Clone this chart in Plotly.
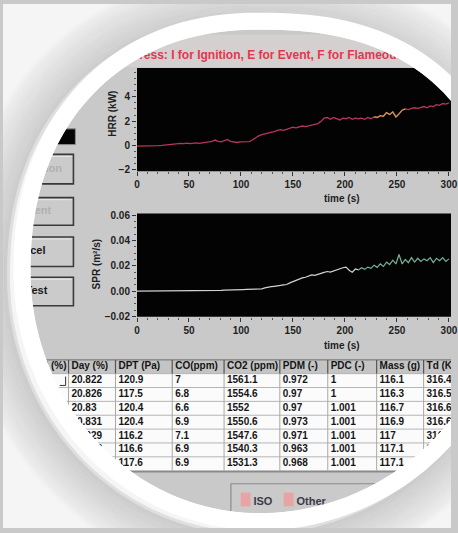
import math
import plotly.graph_objects as go

W, H = 458, 533

# ---------------- data ----------------
time_s = list(range(0, 301, 3))

hrr_kw = [
    -0.05, -0.05, -0.03, -0.05, -0.04, -0.02, -0.03, 0.0, 0.02,
    0.05, 0.08, 0.1, 0.15, 0.12, 0.18, 0.15, 0.2, 0.15, 0.2, 0.22, 0.18,
    0.2, 0.25, 0.3, 0.35, 0.45, 0.35, 0.3, 0.4, 0.5, 0.35, 0.3,
    0.25, 0.3, 0.3, 0.28, 0.32, 0.45, 0.65,
    0.8, 0.9, 0.95, 1.05, 1.1, 1.15, 1.25, 1.3, 1.25, 1.35, 1.4,
    1.5, 1.45, 1.55, 1.6, 1.55, 1.6, 1.65, 1.7, 1.8, 2.0, 2.25,
    2.3, 2.15, 2.3, 2.2, 2.1, 2.25, 2.2, 2.3, 2.15, 2.25, 2.2,
    2.25, 2.15, 2.3, 2.2, 2.35, 2.3, 2.45, 2.4, 2.7, 2.55, 2.75,
    2.35, 2.6, 2.9, 3.0, 2.95, 3.05, 3.1, 3.05, 3.15, 3.2, 3.1,
    3.25, 3.2, 3.35, 3.3, 3.45, 3.4, 3.5,
]

spr_m2s = [
    0.0, 0.0, 0.0, 0.0, 0.0, 0.0001, 0.0001, 0.0001, 0.0001, 0.0002, 0.0002, 0.0002, 0.0003, 0.0003, 0.0003, 0.0003, 0.0004,
    0.0004, 0.0004, 0.0005, 0.0005, 0.0005, 0.0005, 0.0006, 0.0006, 0.0006, 0.0006, 0.0006, 0.0007, 0.0007, 0.0007, 0.0007, 0.0008, 0.0009,
    0.0012, 0.0013, 0.0014, 0.0015, 0.0015, 0.0016, 0.0018, 0.0025, 0.0033, 0.0035, 0.0038, 0.004, 0.0045, 0.005, 0.0052, 0.0065, 0.0075,
    0.009, 0.0095, 0.0105, 0.011, 0.0118, 0.0128, 0.0125, 0.0135, 0.014, 0.0148, 0.0155, 0.015, 0.016, 0.0165, 0.0175, 0.0185, 0.019,
    0.0165, 0.015, 0.0175, 0.0168, 0.0185, 0.0172, 0.019, 0.018, 0.0205, 0.0188, 0.0215, 0.0195, 0.023, 0.021, 0.0245, 0.0215, 0.029,
    0.0215, 0.025, 0.0225, 0.0265, 0.023, 0.026, 0.0235, 0.0255, 0.024, 0.0265, 0.0225, 0.026, 0.024, 0.0265, 0.0235, 0.0255,
]

hrr_orange_window = (228, 258)
spr_colour_switch = 213

x_ticks = [0, 50, 100, 150, 200, 250, 300]
hrr_ticks = [-2, 0, 2, 4]
spr_ticks = [-0.02, 0.0, 0.02, 0.04, 0.06]

table_headers = ["O2 (%)", "Day (%)", "DPT (Pa)", "CO(ppm)", "CO2 (ppm)",
                 "PDM (-)", "PDC (-)", "Mass (g)", "Td (K)"]
col_o2 = ["", "", "", "", "", "", ""]
col_day = [20.822, 20.826, 20.83, 20.831, 20.829, 20.828, 20.827]
col_dpt = [120.9, 117.5, 120.4, 120.4, 116.2, 116.6, 117.6]
col_co = [7, 6.8, 6.6, 6.9, 7.1, 6.9, 6.9]
col_co2 = [1561.1, 1554.6, 1552, 1550.6, 1547.6, 1540.3, 1531.3]
col_pdm = [0.972, 0.97, 0.97, 0.973, 0.971, 0.963, 0.968]
col_pdc = [1, 1, 1.001, 1.001, 1.001, 1.001, 1.001]
col_mass = [116.1, 116.3, 116.7, 116.9, 117, 117.1, 117.1]
col_td = [316.4, 316.5, 316.6, 316.6, 316.7, 316.8, 316.8]
table_columns = [col_o2, col_day, col_dpt, col_co, col_co2,
                 col_pdm, col_pdc, col_mass, col_td]

instruction = "Press: I for Ignition, E for Event, F for Flameout"
button_labels = ["Ignition", "Event", "Cancel", "End Test"]
tab_labels = ["ISO", "Other"]

# ---------------- layout constants (pixels) ----------------
PLOT_L = 137
TOP_Y0, TOP_Y1 = 65, 170
BOT_Y0, BOT_Y1 = 213, 318
col_edges = [0, 67, 115, 173, 226, 283, 332, 382, 430, 500]
TAB_TOP, HEAD_H, ROW_H = 362, 14, 14.1
SCREEN = "#c9c9c9"
FONT = "Liberation Sans"


def ydom(y0, y1):
    return [1 - y1 / H, 1 - y0 / H]


fig = go.Figure()

# ---------------- plot traces ----------------
def segment(xs, ys, lo, hi):
    sx = [x for x in xs if lo <= x <= hi]
    sy = [y for x, y in zip(xs, ys) if lo <= x <= hi]
    return sx, sy

fig.add_trace(go.Scatter(x=time_s, y=hrr_kw, mode="lines",
                         line=dict(color="#b8365a", width=1.3),
                         xaxis="x", yaxis="y", hoverinfo="skip"))
ox, oy = segment(time_s, hrr_kw, *hrr_orange_window)
fig.add_trace(go.Scatter(x=ox, y=oy, mode="lines",
                         line=dict(color="#c9953e", width=1.3),
                         xaxis="x", yaxis="y", hoverinfo="skip"))
wx, wy = segment(time_s, spr_m2s, 0, spr_colour_switch)
fig.add_trace(go.Scatter(x=wx, y=wy, mode="lines",
                         line=dict(color="#d2d2d2", width=1.2),
                         xaxis="x2", yaxis="y2", hoverinfo="skip"))
gx, gy = segment(time_s, spr_m2s, spr_colour_switch, 300)
fig.add_trace(go.Scatter(x=gx, y=gy, mode="lines",
                         line=dict(color="#74b398", width=1.2),
                         xaxis="x2", yaxis="y2", hoverinfo="skip"))

# ---------------- table, buttons, texts on a pixel overlay ----------------
shapes = []

def rect(x0, y0, x1, y1, fill, line="rgba(0,0,0,0)", lw=0, layer="below"):
    shapes.append(dict(type="rect", xref="x3", yref="y3", x0=x0, y0=y0, x1=x1, y1=y1,
                       fillcolor=fill, line=dict(color=line, width=lw), layer=layer))

def hline(x0, x1, y, color, lw=1):
    shapes.append(dict(type="line", xref="x3", yref="y3", x0=x0, x1=x1, y0=y, y1=y,
                       line=dict(color=color, width=lw), layer="below"))

def vline(x, y0, y1, color, lw=1):
    shapes.append(dict(type="line", xref="x3", yref="y3", x0=x, x1=x, y0=y0, y1=y1,
                       line=dict(color=color, width=lw), layer="below"))

# black plot backgrounds
for xr, yr in (("x", "y"), ("x2", "y2")):
    shapes.append(dict(type="rect", xref=f"{xr} domain", yref=f"{yr} domain",
                       x0=0, x1=1, y0=0, y1=1, fillcolor="#030303",
                       line=dict(width=0), layer="below"))

# instruction strip
rect(0, 31, W, 64, "#d4d0d0")

# left buttons
rect(-10, 127, 74, 143, "#050505", "#8a8a8a", 1)
btn_rows = [(153, 183), (197, 225), (237, 267), (278, 307)]
for (y0, y1) in btn_rows:
    rect(-10, y0, 72, y1, "#cbcbcb", "#3a3a3a", 1.6)
    hline(-10, 70, y0 + 2, "#e9e9e9", 1)

# table
n_rows = len(col_day)
tab_bottom = TAB_TOP + HEAD_H + ROW_H * n_rows
rect(col_edges[0], TAB_TOP, col_edges[-1], TAB_TOP + HEAD_H, "#c4c4c4")
rect(col_edges[0], TAB_TOP + HEAD_H, col_edges[-1], tab_bottom, "#fbfbfb")
for i in range(n_rows + 1):
    hline(col_edges[0], col_edges[-1], TAB_TOP + HEAD_H + ROW_H * i, "#b5b5b5", 1)
hline(col_edges[0], col_edges[-1], TAB_TOP, "#6a6a6a", 1)
hline(col_edges[0], col_edges[-1], tab_bottom + 1, "#8a8a8a", 1.5)
for e in col_edges[1:-1]:
    vline(e, TAB_TOP, TAB_TOP + HEAD_H, "#555555", 1.2)
    vline(e, TAB_TOP + HEAD_H, tab_bottom, "#a8a8a8", 1)
shapes.append(dict(type="path", xref="x3", yref="y3",
                   path=f"M 58 {TAB_TOP + HEAD_H + 12} L 64 {TAB_TOP + HEAD_H + 12} "
                        f"L 64 {TAB_TOP + HEAD_H + 3}",
                   line=dict(color="#333", width=1), layer="below"))

# bottom tab panel
rect(233, 488, 480, 560, "#cacaca", "#8c8c8c", 1.2)
rect(243, 497, 253, 511, "#e8a4a4")
rect(287, 497, 297, 511, "#e8a4a4")

# text on overlay
cell_font = dict(family=FONT, size=10, color="#151515", weight="bold")
tx, ty, tt = [], [], []
for j, head in enumerate(table_headers):
    if j > 0:
        tx.append(col_edges[j] + 3)
        ty.append(TAB_TOP + HEAD_H / 2)
        tt.append(head)
    for i, v in enumerate(table_columns[j]):
        tx.append(col_edges[j] + 3)
        ty.append(TAB_TOP + HEAD_H + ROW_H * i + ROW_H / 2)
        tt.append(v if isinstance(v, str) else f"{v:g}")
fig.add_trace(go.Scatter(x=tx, y=ty, text=tt, mode="text", textposition="middle right",
                         textfont=cell_font, xaxis="x3", yaxis="y3", hoverinfo="skip"))
fig.add_trace(go.Scatter(x=[col_edges[1] - 2], y=[TAB_TOP + HEAD_H / 2],
                         text=[table_headers[0]], mode="text", textposition="middle left",
                         textfont=cell_font, xaxis="x3", yaxis="y3", hoverinfo="skip"))

fig.add_trace(go.Scatter(x=[131], y=[53], text=[instruction], mode="text",
                         textposition="middle right",
                         textfont=dict(family=FONT, size=12, color="#e1374f", weight="bold"),
                         xaxis="x3", yaxis="y3", hoverinfo="skip"))

btn_x = [40, 34, 25, 22]
btn_col = ["#b0b0b0", "#b0b0b0", "#1a1a1a", "#1a1a1a"]
fig.add_trace(go.Scatter(x=btn_x, y=[(a + b) / 2 for a, b in btn_rows], text=button_labels,
                         mode="text", textposition="middle center",
                         textfont=dict(family=FONT, size=11, color=btn_col, weight="bold"),
                         xaxis="x3", yaxis="y3", hoverinfo="skip"))

fig.add_trace(go.Scatter(x=[256, 300], y=[507, 507], text=tab_labels, mode="text",
                         textposition="middle right",
                         textfont=dict(family=FONT, size=11, color="#3a3a4a", weight="bold"),
                         xaxis="x3", yaxis="y3", hoverinfo="skip"))

# ---------------- circular photo frame (superellipse, per-quadrant shape) ----------------
CX, CY = 262, 272
A_L, A_R, B_T, B_B = 234, 248, 246, 246
EXP = {"tl": 2.2, "tr": 2.4, "bl": 2.0, "br": 2.0}


def frame_path(grow, dx=0.0, dy=0.0, n=180):
    pts = []
    for k in range(n):
        t = 2 * math.pi * k / n
        c, s = math.cos(t), math.sin(t)
        a = (A_R if c >= 0 else A_L) + grow
        b = (B_B if s >= 0 else B_T) + grow
        e = EXP[("b" if s >= 0 else "t") + ("r" if c >= 0 else "l")]
        x = CX + dx + a * math.copysign(abs(c) ** (2 / e), c)
        y = CY + dy + b * math.copysign(abs(s) ** (2 / e), s)
        pts.append(f"{x:.1f} {y:.1f}")
    return "M " + " L ".join(pts) + " Z"


outer = "M -40 -40 L 500 -40 L 500 580 L -40 580 Z "
shapes.append(dict(type="path", xref="x3", yref="y3", path=outer + frame_path(0),
                   fillcolor="#f5f5f5", fillrule="evenodd", line=dict(width=0), layer="above"))
for k in range(15):
    g = 17 + 3 * k
    a = 0.11 - 0.0068 * k
    shapes.append(dict(type="path", xref="x3", yref="y3", path=frame_path(g, -7, 5),
                       fillcolor="rgba(0,0,0,0)",
                       line=dict(color=f"rgba(50,50,50,{a:.3f})", width=6), layer="above"))
shapes.append(dict(type="path", xref="x3", yref="y3", path=frame_path(8.5),
                   fillcolor="rgba(0,0,0,0)", line=dict(color="#ffffff", width=17),
                   layer="above"))

# ---------------- axis titles ----------------
ann_font = dict(family=FONT, size=10, color="#1e1e1e", weight="bold")
common_ann = dict(xref="paper", yref="paper", showarrow=False, font=ann_font,
                  xanchor="center", yanchor="middle")
annotations = [
    dict(text="HRR (kW)", x=112 / W, y=1 - 112 / H, textangle=-90, **common_ann),
    dict(text="SPR (m²/s)", x=96 / W, y=1 - 264 / H, textangle=-90, **common_ann),
    dict(text="time (s)", x=347 / W, y=1 - 198 / H, **common_ann),
    dict(text="time (s)", x=347 / W, y=1 - 347 / H, **common_ann),
]

tick_font = dict(family=FONT, size=10, color="#1e1e1e", weight="bold")
xcommon = dict(range=[0, 302], tickvals=x_ticks, ticks="outside", ticklen=4,
               tickcolor="#333", showgrid=False, zeroline=False, showline=False,
               tickfont=tick_font, domain=[PLOT_L / W, 1], fixedrange=True,
               ticklabeloverflow="allow",
               minor=dict(ticks="outside", ticklen=2, dtick=10, tickcolor="#555"))
ycommon = dict(ticks="outside", ticklen=4, tickcolor="#333", showgrid=False,
               zeroline=False, showline=False, tickfont=tick_font, fixedrange=True)

fig.update_layout(
    width=W, height=H, margin=dict(l=0, r=0, t=0, b=0),
    paper_bgcolor=SCREEN, plot_bgcolor="rgba(0,0,0,0)", showlegend=False,
    xaxis=dict(anchor="y", **xcommon),
    yaxis=dict(anchor="x", domain=ydom(TOP_Y0, TOP_Y1), range=[-2.1, 6.37],
               tickvals=hrr_ticks,
               minor=dict(ticks="outside", ticklen=2, dtick=0.5, tickcolor="#555"),
               **ycommon),
    xaxis2=dict(anchor="y2", **xcommon),
    yaxis2=dict(anchor="x2", domain=ydom(BOT_Y0, BOT_Y1), range=[-0.0202, 0.0615],
                tickvals=spr_ticks, tickformat=".2f",
                minor=dict(ticks="outside", ticklen=2, dtick=0.005, tickcolor="#555"),
                **ycommon),
    xaxis3=dict(anchor="y3", domain=[0, 1], range=[0, W], visible=False, fixedrange=True),
    yaxis3=dict(anchor="x3", domain=[0, 1], range=[H, 0], visible=False, fixedrange=True),
    shapes=shapes,
    annotations=annotations,
)

fig.write_html(
    "out.html",
    config={"displayModeBar": False},
    post_script="document.body.style.margin='0';document.body.style.overflow='hidden';",
)
